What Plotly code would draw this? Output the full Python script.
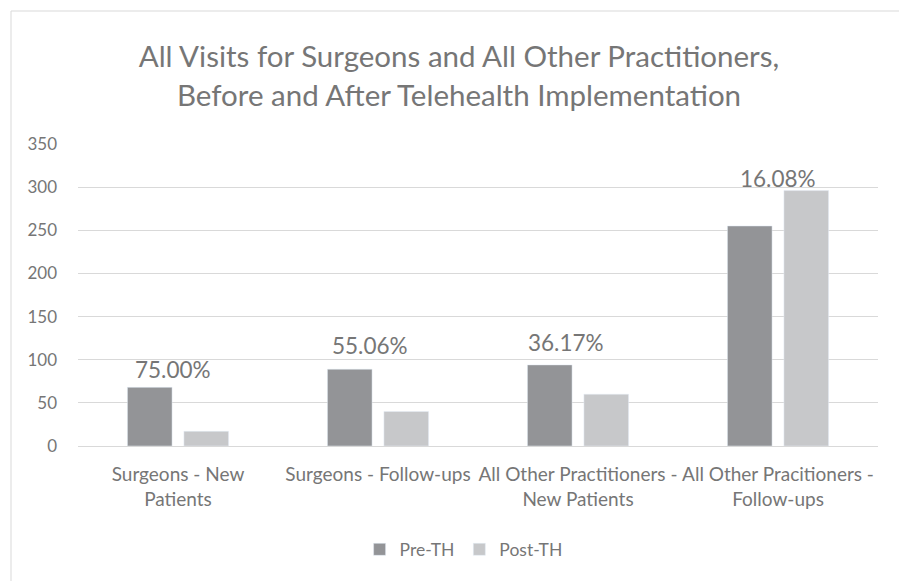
import plotly.graph_objects as go

categories = ["Surgeons - New<br>Patients", "Surgeons - Follow-ups",
              "All Other Practitioners -<br>New Patients", "All Other Pracitioners -<br>Follow-ups"]
pre_th = [68, 89, 94, 255]
post_th = [17, 40, 60, 296]
pct_labels = ["75.00%", "55.06%", "36.17%", "16.08%"]
y_ticks = [0, 50, 100, 150, 200, 250, 300, 350]

FONT = "Lato"
GRAY = "#767676"

fig = go.Figure()
fig.add_trace(go.Bar(name="Pre-TH", x=categories, y=pre_th, marker_color="#939497"))
fig.add_trace(go.Bar(name="Post-TH", x=categories, y=post_th, marker_color="#c7c8ca"))

xshifts = [-5, -8, -12, 0]
yshifts = [2, 8, 7, -3]
for i, lab in enumerate(pct_labels):
    fig.add_annotation(x=categories[i], y=max(pre_th[i], post_th[i]), text=lab,
                       showarrow=False, yanchor="bottom", xanchor="center",
                       xshift=xshifts[i], yshift=yshifts[i],
                       font=dict(family=FONT, size=22.5, color=GRAY))

L, R, T, B = 78, 21, 144, 135
W, H = 899, 581
pw, ph = W - L - R, H - T - B
fig.add_shape(type="rect", xref="paper", yref="paper",
              x0=(11 - L) / pw, x1=1.2, y0=-0.8, y1=(H - B - 11) / ph,
              line=dict(color="#d9d9d9", width=1), fillcolor="rgba(0,0,0,0)", layer="below")

fig.update_layout(
    width=W, height=H,
    margin=dict(l=L, r=R, t=T, b=B),
    paper_bgcolor="white", plot_bgcolor="white",
    barmode="group", bargap=0.435, bargroupgap=0.21,
    title=dict(text="All Visits for Surgeons and All Other Practitioners,<br>Before and After Telehealth Implementation",
               x=459 / W, xanchor="center", xref="container", y=0.884, yanchor="top",
               font=dict(family=FONT, size=29.5, color=GRAY)),
    font=dict(family=FONT, color=GRAY),
    legend=dict(orientation="h", x=0.482, xanchor="center", y=-0.283, yanchor="top",
                font=dict(family=FONT, size=17.5, color=GRAY), traceorder="normal",
                itemwidth=30),
    showlegend=True,
)
fig.update_yaxes(range=[0, 350], tickvals=y_ticks, showgrid=True, gridcolor="#d9d9d9",
                 gridwidth=1, zeroline=False, showline=False, ticks="",
                 tickfont=dict(family=FONT, size=17, color=GRAY), ticklabelstandoff=20)
fig.update_xaxes(showline=True, linecolor="#d9d9d9", ticks="", ticklabelstandoff=11,
                 tickfont=dict(family=FONT, size=19, color=GRAY))

fig.write_html("out.html", config={"displayModeBar": False},
               post_script="document.body.style.margin='0';document.body.style.overflow='hidden';")
